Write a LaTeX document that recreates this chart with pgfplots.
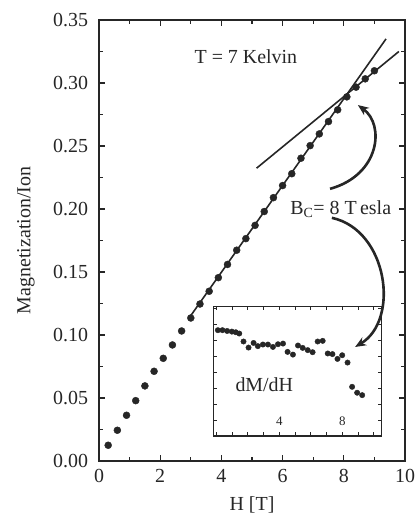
\documentclass[border=0pt]{standalone}
\usepackage{fontspec}
\setmainfont{Liberation Serif}
\usepackage{pgfplots}
\pgfplotsset{compat=1.18}
\usetikzlibrary{arrows.meta}

\pgfplotstableread{
H M
0.3 0.0125
0.6 0.0244
0.9 0.0363
1.2 0.0479
1.5 0.0596
1.8 0.0712
2.1 0.0815
2.4 0.0921
2.7 0.1032
3.0 0.1135
3.3 0.1246
3.6 0.1347
3.9 0.1455
4.2 0.1560
4.5 0.1673
4.8 0.1765
5.1 0.1870
5.4 0.1980
5.7 0.2090
6.0 0.2186
6.3 0.2280
6.6 0.2403
6.9 0.2503
7.2 0.2596
7.5 0.2694
7.8 0.2787
8.1 0.2890
8.4 0.2967
8.7 0.3033
9.0 0.3097
}\magdata

\pgfplotstableread{
H D
0.09 6.63
0.38 6.63
0.68 6.58
0.98 6.54
1.23 6.50
1.45 6.42
1.72 5.92
2.04 5.54
2.36 5.83
2.63 5.63
2.95 5.73
3.27 5.73
3.59 5.58
3.91 5.75
4.23 5.79
4.52 5.27
4.86 5.10
5.18 5.67
5.48 5.52
5.80 5.38
6.11 5.25
6.43 5.92
6.75 5.96
7.07 5.17
7.37 5.13
7.69 4.83
7.99 5.06
8.33 4.60
8.62 3.08
8.94 2.71
9.26 2.56
}\derivdata

\begin{document}
\begin{tikzpicture}
\begin{axis}[name=main,
  scale only axis, width=306bp, height=441bp,
  xmin=0, xmax=10, ymin=0, ymax=0.35,
  xtick={0,2,4,6,8,10}, minor x tick num=1,
  ytick={0,0.05,0.1,0.15,0.2,0.25,0.3,0.35}, minor y tick num=1,
  tick align=inside, major tick length=6bp, minor tick length=4.5bp,
  axis line style={line width=1.2bp, black!85},
  every tick/.style={line width=1.1bp, black!85},
  /pgf/number format/assume math mode=true,
  tick label style={font=\fontsize{20}{24}\selectfont, black!85},
  yticklabel style={/pgf/number format/.cd, fixed, fixed zerofill, precision=2, /tikz/.cd, xshift=-7.5bp},
  xticklabel style={yshift=-5bp},
  xlabel={H [T]}, ylabel={Magnetization/Ion},
  label style={font=\fontsize{20}{24}\selectfont, black!85},
  xlabel style={at={(axis description cs:0.5,0)}, anchor=center, yshift=-44bp},
  ylabel style={at={(axis description cs:-0.2386,0.5)}, anchor=center},
  clip=false,
]
\addplot[black!85, line width=1.6bp] coordinates {(3.0,0.1154) (9.38,0.335)};
\addplot[black!85, line width=1.6bp] coordinates {(5.15,0.2324) (9.8,0.325)};
\addplot[only marks, mark=*, mark size=3.5bp, black!85] table[x=H, y=M] {\magdata};
\node[font=\fontsize{20}{24}\selectfont, black!85] at (axis cs:4.8,0.321) {T = 7 Kelvin};
\node[font=\fontsize{20}{24}\selectfont, black!85] at (axis cs:7.9,0.200) {B\textsubscript{C}= 8 T\,esla};
\coordinate (a1s) at (axis cs:7.55,0.216);
\coordinate (a1c) at (axis cs:9.18,0.227);
\coordinate (a1d) at (axis cs:9.35,0.2667);
\coordinate (a1e) at (axis cs:8.46,0.2825);
\coordinate (a2s) at (axis cs:7.61,0.193);
\coordinate (a2c) at (axis cs:9.44,0.1833);
\coordinate (a2d) at (axis cs:9.84,0.1119);
\coordinate (a2e) at (axis cs:8.37,0.0905);
\end{axis}

\begin{axis}[at={(main.south west)}, anchor=south west, xshift=114.3bp, yshift=25bp,
  scale only axis, width=168.4bp, height=129.3bp,
  xmin=-0.2, xmax=10.5, ymin=0, ymax=8.1,
  xtick={0,1,2,3,4,5,6,7,8,9,10}, xticklabels={,,,,4,,,,8,,},
  ytick={0,1,2,3,4,5,6,7,8}, yticklabels={},
  tick align=inside, major tick length=3.5bp,
  axis line style={line width=1.1bp, black!85},
  every tick/.style={line width=0.9bp, black!85},
  axis background/.style={fill=white},
  /pgf/number format/assume math mode=true,
  xticklabel style={font=\fontsize{13}{15}\selectfont, black!85, anchor=south, yshift=7bp},
]
\addplot[only marks, mark=*, mark size=2.7bp, black!85] table[x=H, y=D] {\derivdata};
\node[font=\fontsize{20}{24}\selectfont, black!85] at (axis cs:3.04,3.19) {dM/dH};
\end{axis}
\draw[black!85, line width=2.6bp, -{Stealth[length=11bp, width=9bp]}]
  (a1s) .. controls (a1c) and (a1d) .. (a1e);
\draw[black!85, line width=2.6bp, -{Stealth[length=11bp, width=9bp]}]
  (a2s) .. controls (a2c) and (a2d) .. (a2e);
\path (main.south west) ++(-99bp,-56bp);
\path (main.north east) ++(11bp,20bp);
\end{tikzpicture}
\end{document}
